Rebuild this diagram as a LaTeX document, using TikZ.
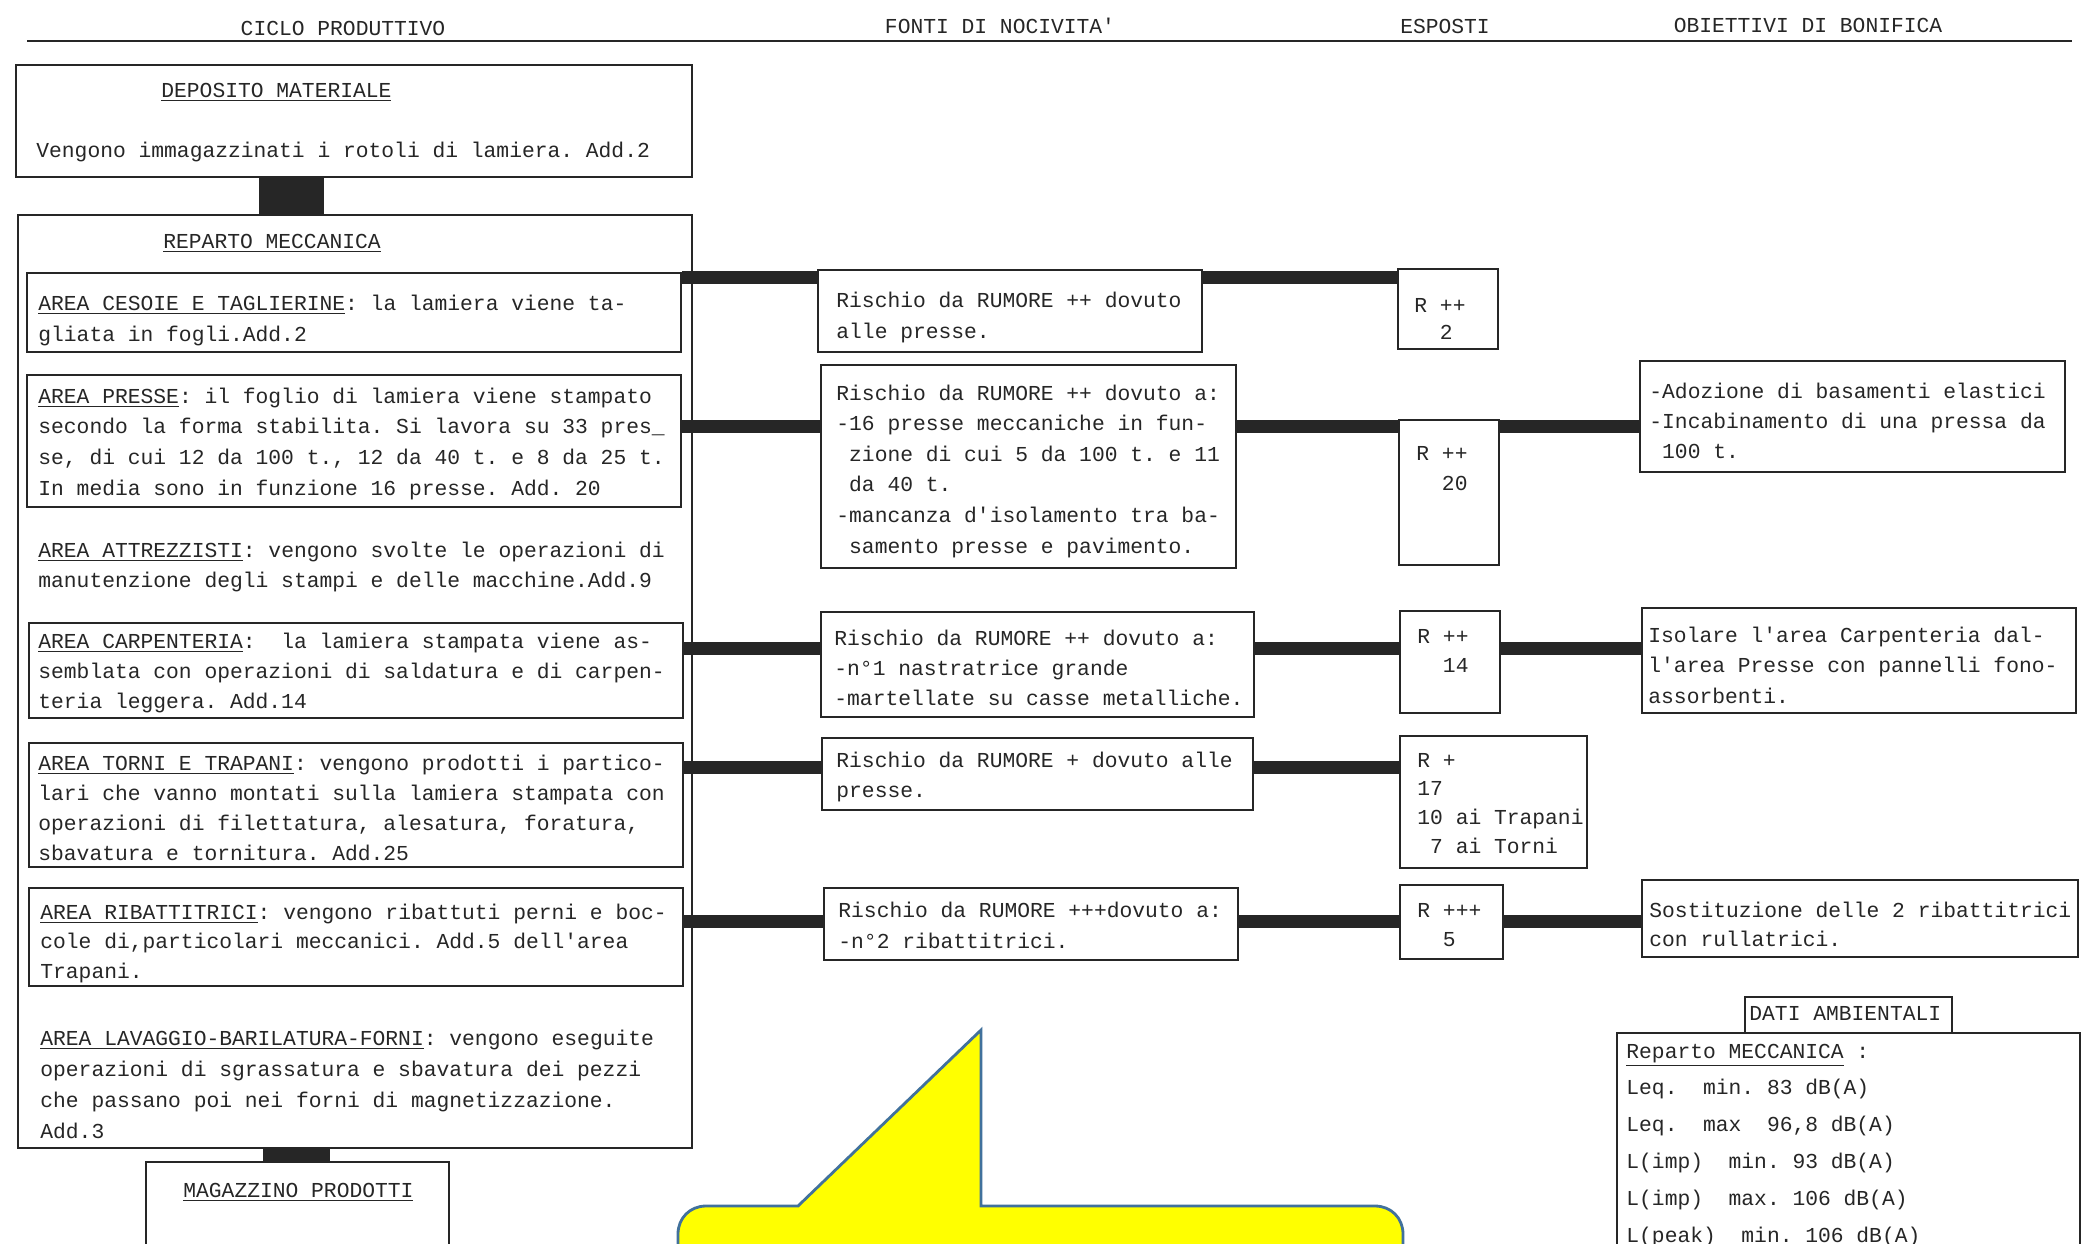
\documentclass[tikz,border=0pt]{standalone}
\usepackage{fontspec}
\setmonofont{Liberation Mono}
\usetikzlibrary{fit}
\definecolor{ink}{HTML}{262626}
\definecolor{calloutfill}{HTML}{FFFF00}
\definecolor{calloutline}{HTML}{41719C}
\newcommand\TB[2]{\vtop{\baselineskip=#1\relax\lineskiplimit=-100pt\lineskip=0pt #2}}
\newcommand\myl[1]{\hbox{#1}}
\begin{document}
\begin{tikzpicture}[x=0.5pt,y=-0.5pt,
  box/.style={draw=ink, line width=1.3pt, inner sep=0pt},
  joint/.style={fill=ink, draw=none, inner sep=0pt},
  conn/.style={draw=ink, line width=6.5pt},
  rulel/.style={draw=ink, line width=1pt},
  txt/.style={font=\ttfamily\fontsize{10.65pt}{15pt}\selectfont\frenchspacing, text=ink, inner sep=0pt, anchor=base west},
  hdr/.style={txt, anchor=base},
  callout/.style={fill=calloutfill, draw=calloutline, line width=1.4pt}]
\useasboundingbox (0,0) rectangle (2082,1243);
\begin{scope}
\clip (0,0) rectangle (2082,1243);
\fill[white] (0,0) rectangle (2082,1243);

% headers
\node[hdr] (h1) at (343,35) {CICLO PRODUTTIVO};
\node[hdr] (h2) at (1000,33) {FONTI DI NOCIVITA'};
\node[hdr] (h3) at (1445,33) {ESPOSTI};
\node[hdr] (h4) at (1808,32) {OBIETTIVI DI BONIFICA};
\coordinate (hlA) at (27,41);
\coordinate (hlB) at (2072,41);
\draw[rulel] (hlA) -- (hlB);

% left column boxes
\node[box, fit={(16,65) (692,177)}] (dep) {};
\node[box, fit={(18,215) (692,1148)}] (rep) {};
\node[box, fit={(27,273) (681,352)}] (bces) {};
\node[box, fit={(27,375) (681,507)}] (bpre) {};
\node[box, fit={(29,623) (683,718)}] (bcar) {};
\node[box, fit={(29,743) (683,867)}] (btor) {};
\node[box, fit={(29,888) (683,986)}] (brib) {};
\node[box, fit={(146,1162) (449,1275)}] (mag) {};
\node[joint, fit={(259,177) (324,215)}] (j1) {};
\node[joint, fit={(263,1148) (330,1162)}] (j2) {};

% fonti boxes
\node[box, fit={(818,270) (1202,352)}] (f1) {};
\node[box, fit={(821,365) (1236,568)}] (f2) {};
\node[box, fit={(821,612) (1254,717)}] (f3) {};
\node[box, fit={(822,738) (1253,810)}] (f4) {};
\node[box, fit={(824,888) (1238,960)}] (f5) {};

% esposti boxes
\node[box, fit={(1398,269) (1498,349)}] (e1) {};
\node[box, fit={(1399,420) (1499,565)}] (e2) {};
\node[box, fit={(1400,611) (1500,713)}] (e3) {};
\node[box, fit={(1400,736) (1587,868)}] (e4) {};
\node[box, fit={(1400,885) (1503,959)}] (e5) {};

% obiettivi boxes
\node[box, fit={(1640,361) (2065,472)}] (o1) {};
\node[box, fit={(1642,608) (2076,713)}] (o2) {};
\node[box, fit={(1642,880) (2078,957)}] (o3) {};

% dati ambientali
\node[box, fit={(1745,997) (1952,1033)}] (dtit) {};
\node[box, fit={(1617,1033) (2080,1275)}] (dati) {};

% connectors
\coordinate (r1) at (0,277);
\coordinate (r2) at (0,426);
\coordinate (r3) at (0,648);
\coordinate (r4) at (0,767);
\coordinate (r5) at (0,921);
\draw[conn] (bces.east |- r1) -- (f1.west |- r1);
\draw[conn] (f1.east |- r1) -- (e1.west |- r1);
\draw[conn] (bpre.east |- r2) -- (f2.west |- r2);
\draw[conn] (f2.east |- r2) -- (e2.west |- r2);
\draw[conn] (e2.east |- r2) -- (o1.west |- r2);
\draw[conn] (bcar.east |- r3) -- (f3.west |- r3);
\draw[conn] (f3.east |- r3) -- (e3.west |- r3);
\draw[conn] (e3.east |- r3) -- (o2.west |- r3);
\draw[conn] (btor.east |- r4) -- (f4.west |- r4);
\draw[conn] (f4.east |- r4) -- (e4.west |- r4);
\draw[conn] (brib.east |- r5) -- (f5.west |- r5);
\draw[conn] (f5.east |- r5) -- (e5.west |- r5);
\draw[conn] (e5.east |- r5) -- (o3.west |- r5);

% left column texts
\node[txt] (tdep1) at (161,97) {\underline{DEPOSITO MATERIALE}};
\node[txt] (tdep2) at (36,157) {Vengono immagazzinati i rotoli di lamiera. Add.2};
\node[txt] (trep) at (163,248) {\underline{REPARTO MECCANICA}};
\node[txt] (tces) at (38,310) {\TB{15.5pt}{%
  \myl{\underline{AREA CESOIE E TAGLIERINE}: la lamiera viene ta-}%
  \myl{gliata in fogli.Add.2}}};
\node[txt] (tpre) at (38,403) {\TB{15.35pt}{%
  \myl{\underline{AREA PRESSE}: il foglio di lamiera viene stampato}%
  \myl{secondo la forma stabilita. Si lavora su 33 pres\_}%
  \myl{se, di cui 12 da 100 t., 12 da 40 t. e 8 da 25 t.}%
  \myl{In media sono in funzione 16 presse. Add. 20}}};
\node[txt] (tatt) at (38,557) {\TB{15pt}{%
  \myl{\underline{AREA ATTREZZISTI}: vengono svolte le operazioni di}%
  \myl{manutenzione degli stampi e delle macchine.Add.9}}};
\node[txt] (tcar) at (38,648) {\TB{15pt}{%
  \myl{\underline{AREA CARPENTERIA}:~ la lamiera stampata viene as-}%
  \myl{semblata con operazioni di saldatura e di carpen-}%
  \myl{teria leggera. Add.14}}};
\node[txt] (ttor) at (38,770) {\TB{15pt}{%
  \myl{\underline{AREA TORNI E TRAPANI}: vengono prodotti i partico-}%
  \myl{lari che vanno montati sulla lamiera stampata con}%
  \myl{operazioni di filettatura, alesatura, foratura,}%
  \myl{sbavatura e tornitura. Add.25}}};
\node[txt] (trib) at (40,919) {\TB{14.75pt}{%
  \myl{\underline{AREA RIBATTITRICI}: vengono ribattuti perni e boc-}%
  \myl{cole di,particolari meccanici. Add.5 dell'area}%
  \myl{Trapani.}}};
\node[txt] (tlav) at (40,1045) {\TB{15.5pt}{%
  \myl{\underline{AREA LAVAGGIO-BARILATURA-FORNI}: vengono eseguite}%
  \myl{operazioni di sgrassatura e sbavatura dei pezzi}%
  \myl{che passano poi nei forni di magnetizzazione.}%
  \myl{Add.3}}};
\node[txt] (tmag) at (183,1197) {\underline{MAGAZZINO PRODOTTI}};

% fonti texts
\node[txt] (tf1) at (836,307) {\TB{15.5pt}{%
  \myl{Rischio da RUMORE ++ dovuto}%
  \myl{alle presse.}}};
\node[txt] (tf2) at (836,400) {\TB{15.3pt}{%
  \myl{Rischio da RUMORE ++ dovuto a:}%
  \myl{-16 presse meccaniche in fun-}%
  \myl{~zione di cui 5 da 100 t. e 11}%
  \myl{~da 40 t.}%
  \myl{-mancanza d'isolamento tra ba-}%
  \myl{~samento presse e pavimento.}}};
\node[txt] (tf3) at (834,645) {\TB{15pt}{%
  \myl{Rischio da RUMORE ++ dovuto a:}%
  \myl{-n°1 nastratrice grande}%
  \myl{-martellate su casse metalliche.}}};
\node[txt] (tf4) at (836,767) {\TB{15pt}{%
  \myl{Rischio da RUMORE + dovuto alle}%
  \myl{presse.}}};
\node[txt] (tf5) at (838,917) {\TB{15.5pt}{%
  \myl{Rischio da RUMORE +++dovuto a:}%
  \myl{-n°2 ribattitrici.}}};

% esposti texts
\node[txt] (te1) at (1414,312) {\TB{13.5pt}{\myl{R ++}\myl{~~2}}};
\node[txt] (te2) at (1416,460) {\TB{15pt}{\myl{R ++}\myl{~~20}}};
\node[txt] (te3) at (1417,643) {\TB{14.5pt}{\myl{R ++}\myl{~~14}}};
\node[txt] (te4) at (1417,767) {\TB{14.4pt}{%
  \myl{R +}\myl{17}\myl{10 ai Trapani}\myl{~7 ai Torni}}};
\node[txt] (te5) at (1417,917) {\TB{14.5pt}{\myl{R +++}\myl{~~5}}};

% obiettivi texts
\node[txt] (to1) at (1649,398) {\TB{15pt}{%
  \myl{-Adozione di basamenti elastici}%
  \myl{-Incabinamento di una pressa da}%
  \myl{~100 t.}}};
\node[txt] (to2) at (1648,642) {\TB{15.25pt}{%
  \myl{Isolare l'area Carpenteria dal-}%
  \myl{l'area Presse con pannelli fono-}%
  \myl{assorbenti.}}};
\node[txt] (to3) at (1649,917) {\TB{14.5pt}{%
  \myl{Sostituzione delle 2 ribattitrici}%
  \myl{con rullatrici.}}};

% dati texts
\node[txt] (tdt) at (1749,1020) {DATI AMBIENTALI};
\node[txt] (tdati) at (1626,1058) {\TB{18.4pt}{%
  \myl{\underline{Reparto MECCANICA} :}%
  \myl{Leq.~ min. 83 dB(A)}%
  \myl{Leq.~ max~ 96,8 dB(A)}%
  \myl{L(imp)~ min. 93 dB(A)}%
  \myl{L(imp)~ max. 106 dB(A)}%
  \myl{L(peak)~ min. 106 dB(A)}}};

% callout
\draw[callout] (678,1280) -- (678,1234) .. controls (678,1218) and (690,1206) .. (706,1206)
  -- (798,1206) -- (981,1030) -- (981,1206) -- (1375,1206)
  .. controls (1391,1206) and (1403,1218) .. (1403,1234) -- (1403,1280);
\end{scope}
\end{tikzpicture}
\end{document}
